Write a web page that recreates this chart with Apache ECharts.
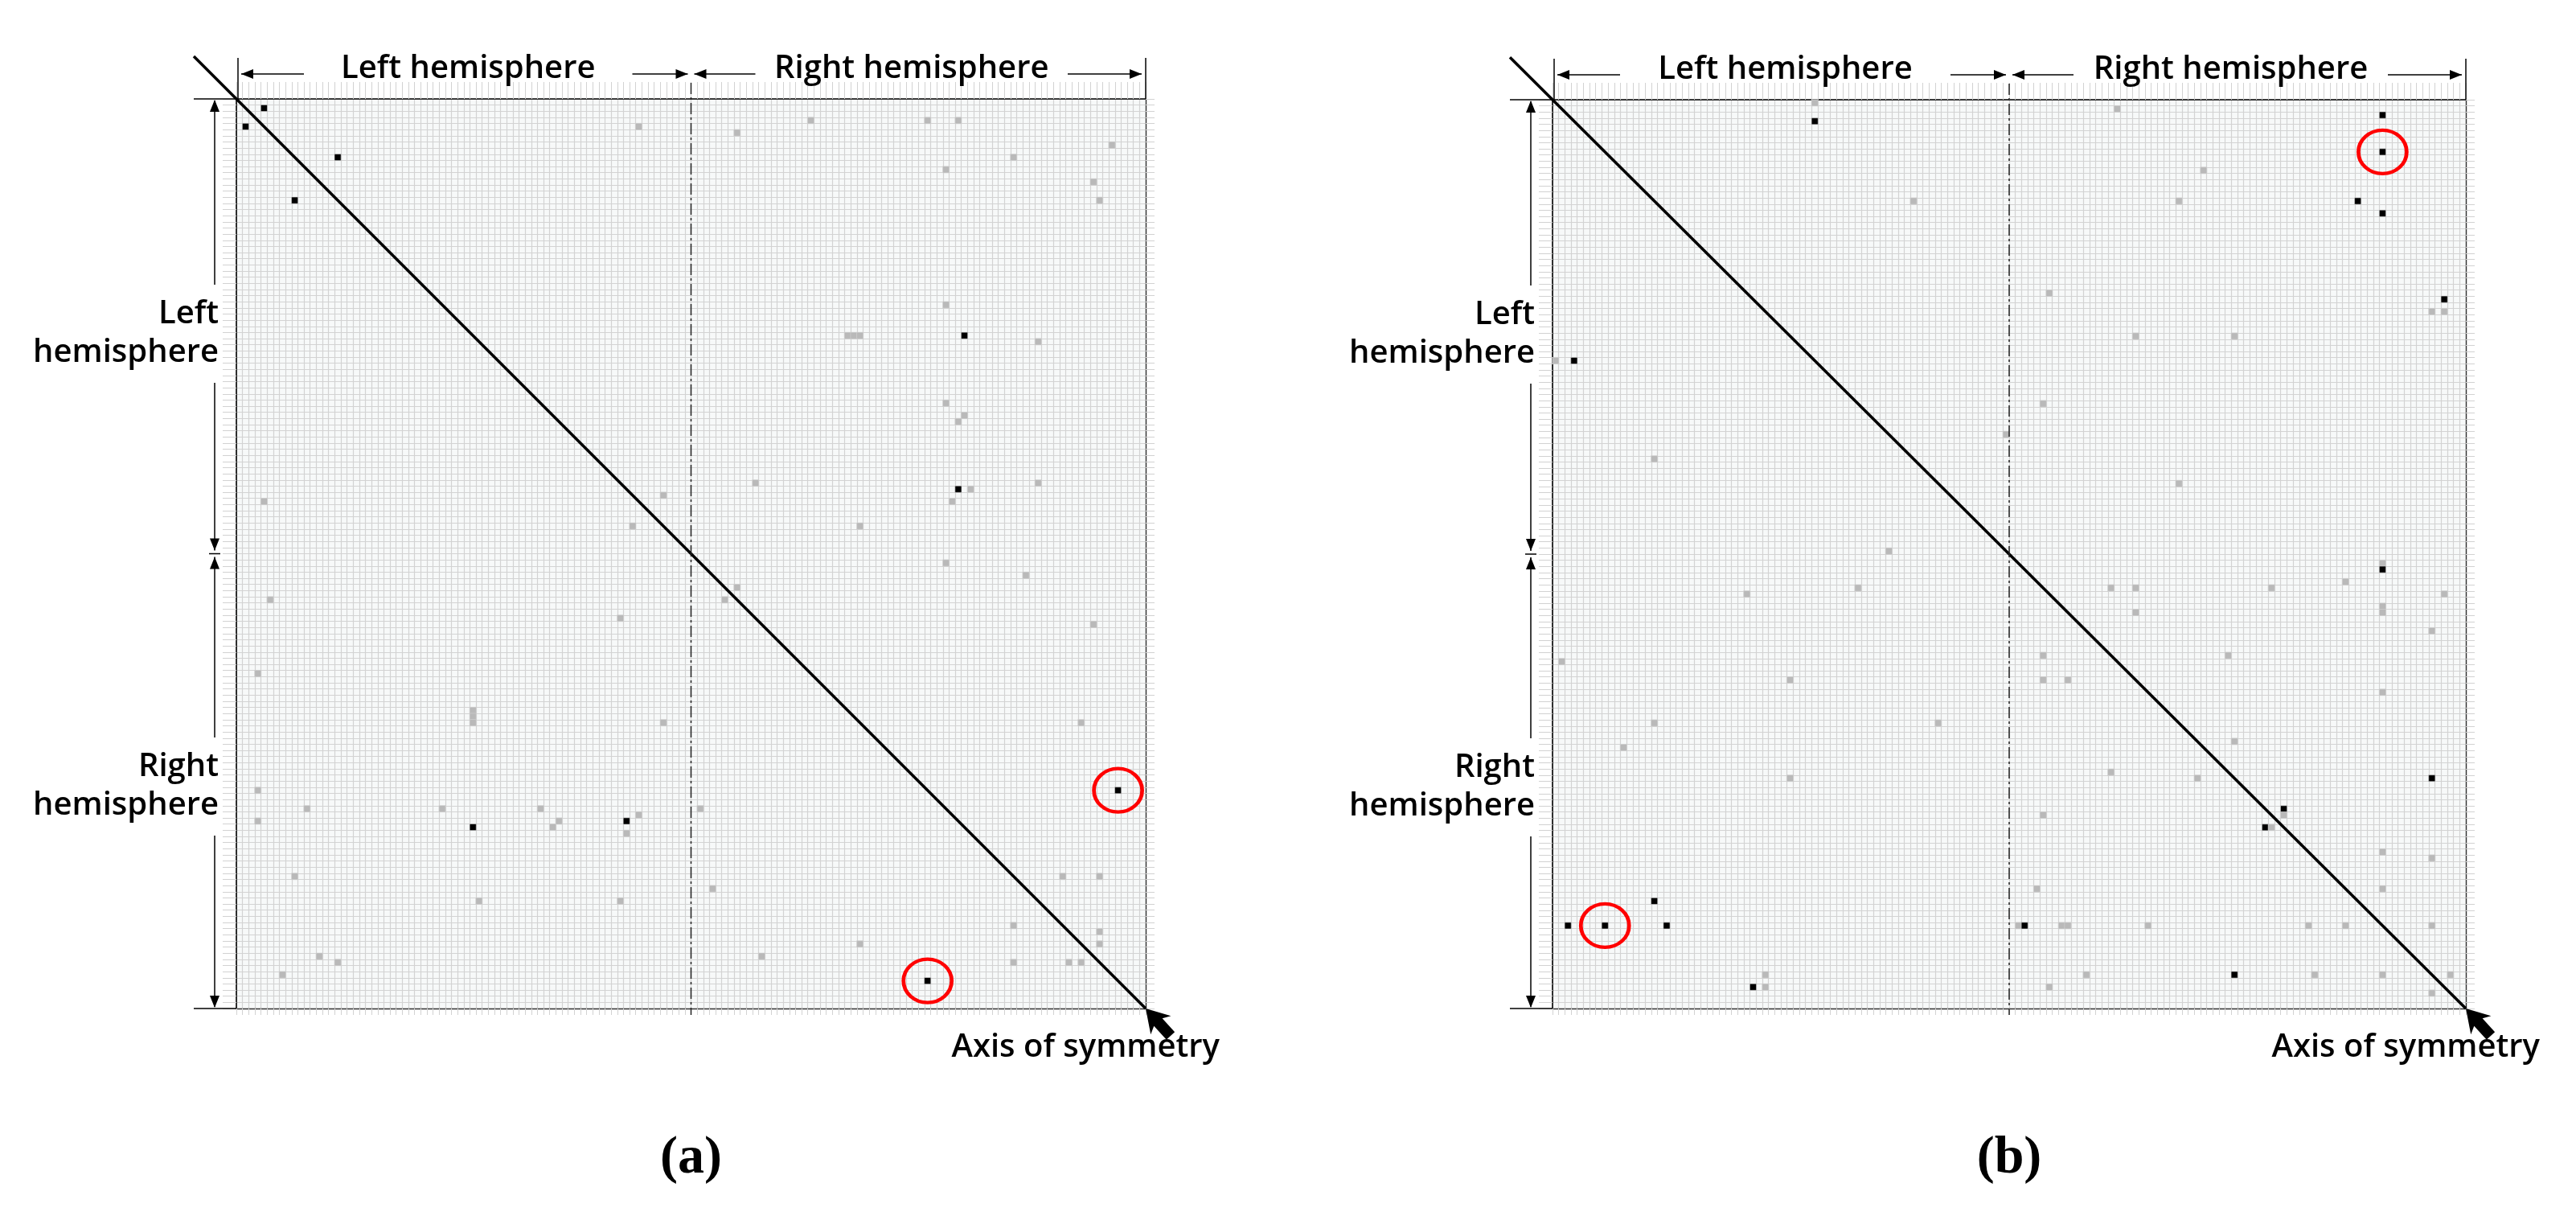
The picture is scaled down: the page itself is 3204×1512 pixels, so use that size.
<!DOCTYPE html>
<html>
<head>
<meta charset="utf-8">
<script src="https://cdn.jsdelivr.net/npm/echarts@6/dist/echarts.min.js"></script>
<style>
html, body { margin: 0; padding: 0; background: #fff; }
#chart { width: 3204px; height: 1512px; }
</style>
</head>
<body>
<div id="chart"></div>
<script>
// 148 cortical regions, 74 per hemisphere
const regions = Array.from({ length: 148 }, (_, i) => "R" + (i + 1));

// upper triangle of each symmetric matrix: [column, row, level], level 1 = grey, 2 = black
const linksA = [
    [4, 1, 2], [16, 9, 2], [65, 4, 1], [69, 64, 1], [93, 3, 1], [81, 5, 1], [112, 3, 1], [117, 3, 1],
    [142, 7, 1], [126, 9, 1], [115, 11, 1], [139, 13, 1], [140, 16, 1], [115, 33, 1], [99, 38, 1],
    [100, 38, 1], [101, 38, 1], [118, 38, 2], [130, 39, 1], [115, 49, 1], [118, 51, 1], [117, 52, 1],
    [84, 62, 1], [130, 62, 1], [117, 63, 2], [119, 63, 1], [116, 65, 1], [101, 69, 1], [115, 75, 1],
    [128, 77, 1], [81, 79, 1], [139, 85, 1], [137, 101, 1], [143, 112, 2], [134, 126, 1],
    [140, 126, 1], [140, 135, 1], [140, 137, 1]
];
const linksB = [
    [42, 0, 1], [42, 3, 2], [91, 1, 1], [134, 2, 2], [134, 8, 2], [105, 11, 1], [58, 16, 1],
    [101, 16, 1], [130, 16, 2], [134, 18, 2], [80, 31, 1], [144, 32, 2], [142, 34, 1], [144, 34, 1],
    [94, 38, 1], [110, 38, 1], [79, 49, 1], [73, 54, 1], [101, 62, 1], [134, 75, 1], [134, 76, 2],
    [128, 78, 1], [90, 79, 1], [94, 79, 1], [116, 79, 1], [144, 80, 1], [134, 82, 1], [134, 83, 1],
    [94, 83, 1], [142, 86, 1], [109, 90, 1], [134, 96, 1], [110, 104, 1], [142, 110, 2],
    [118, 115, 2], [118, 116, 1], [134, 122, 1], [142, 123, 1], [134, 128, 1], [142, 134, 1],
    [145, 142, 1]
];
// cells marked with red circles
const circledA = [[143, 112], [112, 143]];
const circledB = [[134, 8], [8, 134]];

const panelLabels = ["(a)", "(b)"];
const hemiNames = ["Left hemisphere", "Right hemisphere"];

// layout of the two matrices (px)
const boxes = [
    { l: 294, t: 123, w: 1131, h: 1131 },
    { l: 1931, t: 124, w: 1136, h: 1130 }
];

const FONT = '600 40px "Open Sans", "Noto Sans", sans-serif';

function symmetric(links) {
    let out = [];
    links.forEach(d => {
        out.push([d[0], d[1], d[2]]);
        out.push([d[1], d[0], d[2]]);
    });
    return out;
}

function axesFor(gi, isX) {
    return [
        {
            type: "category", gridIndex: gi, data: regions, boundaryGap: true,
            position: isX ? "top" : "left", inverse: !isX,
            axisLine: { show: true, onZero: false, lineStyle: { color: "#000", width: 1.6 } },
            axisTick: { show: true, interval: 0, length: isX ? 21 : 17, lineStyle: { color: "#d2d2d2", width: 1 } },
            axisLabel: { show: false },
            splitLine: { show: true, interval: 0, lineStyle: { color: "#d3d3d3", width: 1.2 } }
        },
        {
            type: "category", gridIndex: gi, data: regions, boundaryGap: true,
            position: isX ? "bottom" : "right", inverse: !isX,
            axisLine: { show: true, onZero: false, lineStyle: { color: "#333", width: 1.4 } },
            axisTick: { show: true, interval: 0, length: isX ? 8 : 11, lineStyle: { color: "#d2d2d2", width: 1 } },
            axisLabel: { show: false },
            splitLine: { show: false }
        }
    ];
}

function line(x1, y1, x2, y2, w, color, dash) {
    return {
        type: "line", z: 100, silent: true,
        shape: { x1: x1, y1: y1, x2: x2, y2: y2 },
        style: { stroke: color || "#000", lineWidth: w || 1.5, lineDash: dash || null }
    };
}

// small filled arrowhead, tip at (x, y), pointing along (dx, dy)
function head(x, y, dx, dy) {
    let len = 15, hw = 6;
    let bx = x - dx * len, by = y - dy * len;
    return {
        type: "polygon", z: 101, silent: true,
        shape: { points: [[x, y], [bx - dy * hw, by + dx * hw], [bx + dy * hw, by - dx * hw]] },
        style: { fill: "#000" }
    };
}

function text(str, x, y, font, align, extra) {
    return {
        type: "text", z: 110, silent: true,
        style: Object.assign({ text: str, x: x, y: y, font: font, fill: "#000", align: align || "center", verticalAlign: "middle" }, extra || {})
    };
}

function annotations(box, idx) {
    let l = box.l, t = box.t, r = box.l + box.w, b = box.t + box.h;
    let mx = l + box.w / 2, my = t + box.h / 2;
    let g = [];

    // axis of symmetry
    g.push(line(l - 53, t - 53 * box.h / box.w, r, b, 3.6));
    let ux = 1 / Math.sqrt(2.21), uy = 1.1 / Math.sqrt(2.21), vx = -uy, vy = ux;
    let p = (a, c) => [r + a * ux + c * vx, b + a * uy + c * vy];
    g.push({
        type: "polygon", z: 102, silent: true,
        shape: { points: [p(0, 0), p(28, 17), p(23, 7), p(46, 7), p(46, -7), p(23, -7), p(28, -17)] },
        style: { fill: "#000" }
    });
    g.push(text("Axis of symmetry", r + 92, b + 49, FONT, "right"));

    // hemisphere split
    g.push(line(mx, t - 20, mx, b + 8, 1.5, "#222", [14, 4, 3, 4]));

    // top brackets
    let ty = t - 31;
    g.push(line(l + 2, t - 51, l + 2, t, 1.5));
    g.push(line(r, t - 51, r, t, 1.5));
    g.push(line(l + 6, ty, l + 84, ty), head(l + 6, ty, -1, 0));
    g.push(line(mx - 73, ty, mx - 4, ty), head(mx - 4, ty, 1, 0));
    g.push(line(mx + 4, ty, mx + 80, ty), head(mx + 4, ty, -1, 0));
    g.push(line(r - 97, ty, r - 5, ty), head(r - 5, ty, 1, 0));
    g.push(text(hemiNames[0], (l + 84 + mx - 73) / 2, t - 37, FONT));
    g.push(text(hemiNames[1], (mx + 80 + r - 97) / 2, t - 37, FONT));

    // left brackets
    let lx = l - 27;
    g.push(line(l - 53, t, l, t, 1.5));
    g.push(line(l - 53, b, l, b, 1.5));
    g.push(line(lx, t + 2, lx, my - 4), head(lx, t + 1, 0, -1), head(lx, my - 4, 0, 1));
    g.push(line(lx, my + 4, lx, b - 2), head(lx, my + 4, 0, -1), head(lx, b - 1, 0, 1));
    g.push(line(lx - 7, my, lx + 7, my, 1.5));
    let boxStyle = { backgroundColor: "#fff", padding: [14, 0, 12, 0], lineHeight: 48 };
    g.push(text("Left\nhemisphere", l - 22, t + 292, FONT, "right", boxStyle));
    g.push(text("Right\nhemisphere", l - 22, t + 855, FONT, "right", boxStyle));

    // panel label
    g.push(text(panelLabels[idx], mx, 1441, 'bold 66px "Liberation Serif", "DejaVu Serif", serif'));
    return g;
}

function circleSeries(data, axisIdx) {
    return {
        type: "scatter", xAxisIndex: axisIdx, yAxisIndex: axisIdx, silent: true, z: 20,
        data: data, symbol: "circle", symbolSize: [60, 54],
        itemStyle: { color: "rgba(0,0,0,0)", borderColor: "#ff0000", borderWidth: 4.5, opacity: 1 }
    };
}

let chart = echarts.init(document.getElementById("chart"));

let option = {
    backgroundColor: "#fff",
    animation: false,
    grid: boxes.map(bx => ({
        left: bx.l, top: bx.t, width: bx.w, height: bx.h,
        show: true, backgroundColor: "#f7f9f9", borderWidth: 0
    })),
    xAxis: [].concat(axesFor(0, true), axesFor(1, true)),
    yAxis: [].concat(axesFor(0, false), axesFor(1, false)),
    visualMap: {
        type: "piecewise", show: false, dimension: 2, seriesIndex: [0, 1],
        pieces: [
            { value: 1, color: "#b9b9b9" },
            { value: 2, color: "#000000" }
        ]
    },
    series: [
        {
            type: "heatmap", xAxisIndex: 0, yAxisIndex: 0, data: symmetric(linksA), silent: true,
            itemStyle: { borderColor: "#d3d3d3", borderWidth: 0.6 }
        },
        {
            type: "heatmap", xAxisIndex: 2, yAxisIndex: 2, data: symmetric(linksB), silent: true,
            itemStyle: { borderColor: "#d3d3d3", borderWidth: 0.6 }
        },
        circleSeries(circledA, 0),
        circleSeries(circledB, 2)
    ],
    graphic: [].concat(annotations(boxes[0], 0), annotations(boxes[1], 1))
};
chart.setOption(option);
</script>
</body>
</html>
